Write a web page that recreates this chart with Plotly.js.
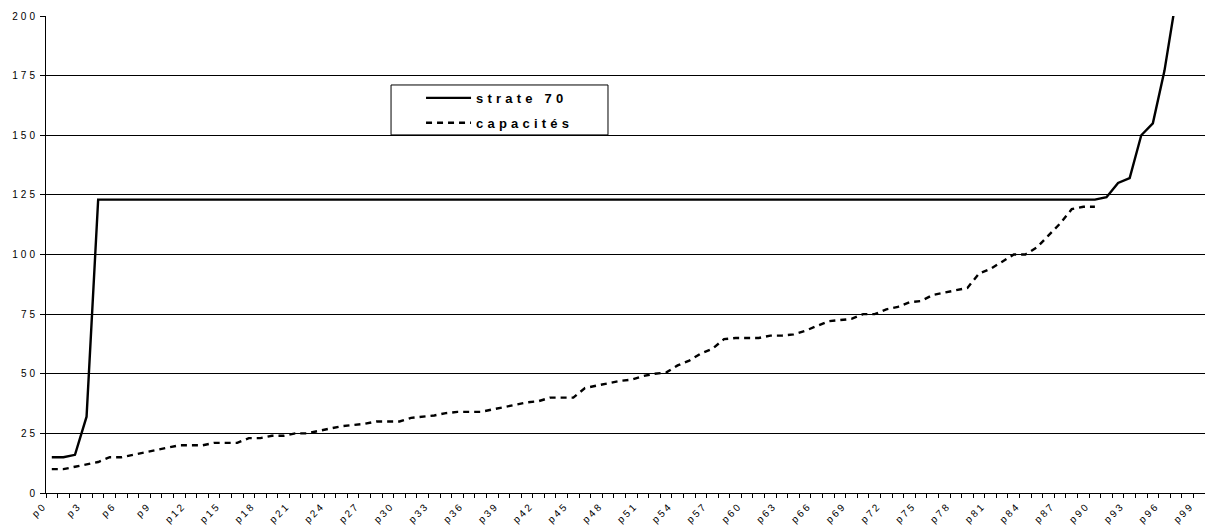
<!DOCTYPE html>
<html>
<head>
<meta charset="utf-8">
<script src="https://cdn.plot.ly/plotly-3.0.1.min.js"></script>
<style>
  html, body { margin: 0; padding: 0; background: #fff; }
  #chart { width: 1205px; height: 525px; }
  .legendtext { letter-spacing: 4.2px; }
  .ytick text { letter-spacing: 3px; }
  .xtick text { letter-spacing: 2.5px; }
</style>
</head>
<body>
<div id="chart"></div>
<script>
const categories = [
  'p0','p1','p2','p3','p4','p5','p6','p7','p8','p9',
  'p10','p11','p12','p13','p14','p15','p16','p17','p18','p19',
  'p20','p21','p22','p23','p24','p25','p26','p27','p28','p29',
  'p30','p31','p32','p33','p34','p35','p36','p37','p38','p39',
  'p40','p41','p42','p43','p44','p45','p46','p47','p48','p49',
  'p50','p51','p52','p53','p54','p55','p56','p57','p58','p59',
  'p60','p61','p62','p63','p64','p65','p66','p67','p68','p69',
  'p70','p71','p72','p73','p74','p75','p76','p77','p78','p79',
  'p80','p81','p82','p83','p84','p85','p86','p87','p88','p89',
  'p90','p91','p92','p93','p94','p95','p96','p97','p98','p99'
];

const tickLabels = [
  'p0','p3','p6','p9','p12','p15','p18','p21','p24','p27',
  'p30','p33','p36','p39','p42','p45','p48','p51','p54','p57',
  'p60','p63','p66','p69','p72','p75','p78','p81','p84','p87',
  'p90','p93','p96','p99'
];

const strate70 = [
  15,15,16,32,123,123,123,123,123,123,
  123,123,123,123,123,123,123,123,123,123,
  123,123,123,123,123,123,123,123,123,123,
  123,123,123,123,123,123,123,123,123,123,
  123,123,123,123,123,123,123,123,123,123,
  123,123,123,123,123,123,123,123,123,123,
  123,123,123,123,123,123,123,123,123,123,
  123,123,123,123,123,123,123,123,123,123,
  123,123,123,123,123,123,123,123,123,123,
  123,124,130,132,150,155,177,207
];

const capacites = [
  10,10,11,12,13,15,15,16,17,18,
  19,20,20,20,21,21,21,23,23,24,
  24,25,25,26,27,28,28.5,29,30,30,
  30,31.5,32,32.5,33.5,34,34,34,35,36,
  37,38,38.5,40,40,40,44,45,46,47,
  47.5,49,50,50.5,53.5,55.5,58.5,60.5,64.5,65,
  65,65,66,66,66.5,68,70,72,72.5,73,
  75,75,77,78,80,80.5,83,84,85,86,
  92,94,97,100,100,103,108,113,119,120,
  120
];

const seriesNames = ['strate 70', 'capacités'];

const tickText = categories.map(c => tickLabels.indexOf(c) >= 0 ? c : '');

const FONT = 'Arial, "Liberation Sans", sans-serif';

const traces = [
  {
    type: 'scatter', mode: 'lines', name: seriesNames[0], legendgroup: 'a',
    x: categories.slice(0, strate70.length), y: strate70,
    line: { color: '#000', width: 2.4 }
  },
  {
    type: 'scatter', mode: 'lines', name: seriesNames[1], legendgroup: 'b',
    x: categories.slice(0, capacites.length), y: capacites,
    line: { color: '#000', width: 2.4, dash: '6px,5px' }
  }
];

const layout = {
  width: 1205, height: 525,
  margin: { l: 46, r: 0, t: 16, b: 32, pad: 0 },
  paper_bgcolor: '#fff', plot_bgcolor: '#fff',
  font: { family: FONT, color: '#000', size: 10 },
  showlegend: true,
  legend: {
    x: 0.2977, y: 0.8596, xanchor: 'left', yanchor: 'top',
    bgcolor: 'rgba(0,0,0,0)', borderwidth: 0,
    font: { family: FONT, size: 13, weight: 'bold', color: '#000' },
    itemwidth: 45, indentation: 30, tracegroupgap: 5
  },
  shapes: [
    { type: 'rect', xref: 'paper', yref: 'paper', x0: 0.2977, x1: 0.4849, y0: 0.7507, y1: 0.8554,
      line: { color: '#000', width: 1 }, fillcolor: '#fff', layer: 'above' }
  ],
  xaxis: {
    type: 'category', categoryorder: 'array', categoryarray: categories,
    range: [-0.5, 99.5], fixedrange: true,
    tickmode: 'array', tickvals: categories, ticktext: tickText,
    tickson: 'boundaries', ticks: 'outside', ticklen: 4, tickcolor: '#000', tickwidth: 1,
    showline: true, linecolor: '#000', linewidth: 1,
    showgrid: false, zeroline: false, tickangle: -45,
    ticklabelstandoff: 2, ticklabelshift: -8,
    tickfont: { family: FONT, size: 10, color: '#000' },
    automargin: false
  },
  yaxis: {
    range: [0, 200], tick0: 0, dtick: 25, fixedrange: true,
    ticks: 'outside', ticklen: 5, tickcolor: '#000', tickwidth: 1,
    showline: true, linecolor: '#000', linewidth: 1,
    showgrid: true, gridcolor: '#000', gridwidth: 1, zeroline: false,
    tickfont: { family: FONT, size: 10, color: '#000' },
    automargin: false
  }
};

Plotly.newPlot('chart', traces, layout, { displayModeBar: false, staticPlot: true });
</script>
</body>
</html>
